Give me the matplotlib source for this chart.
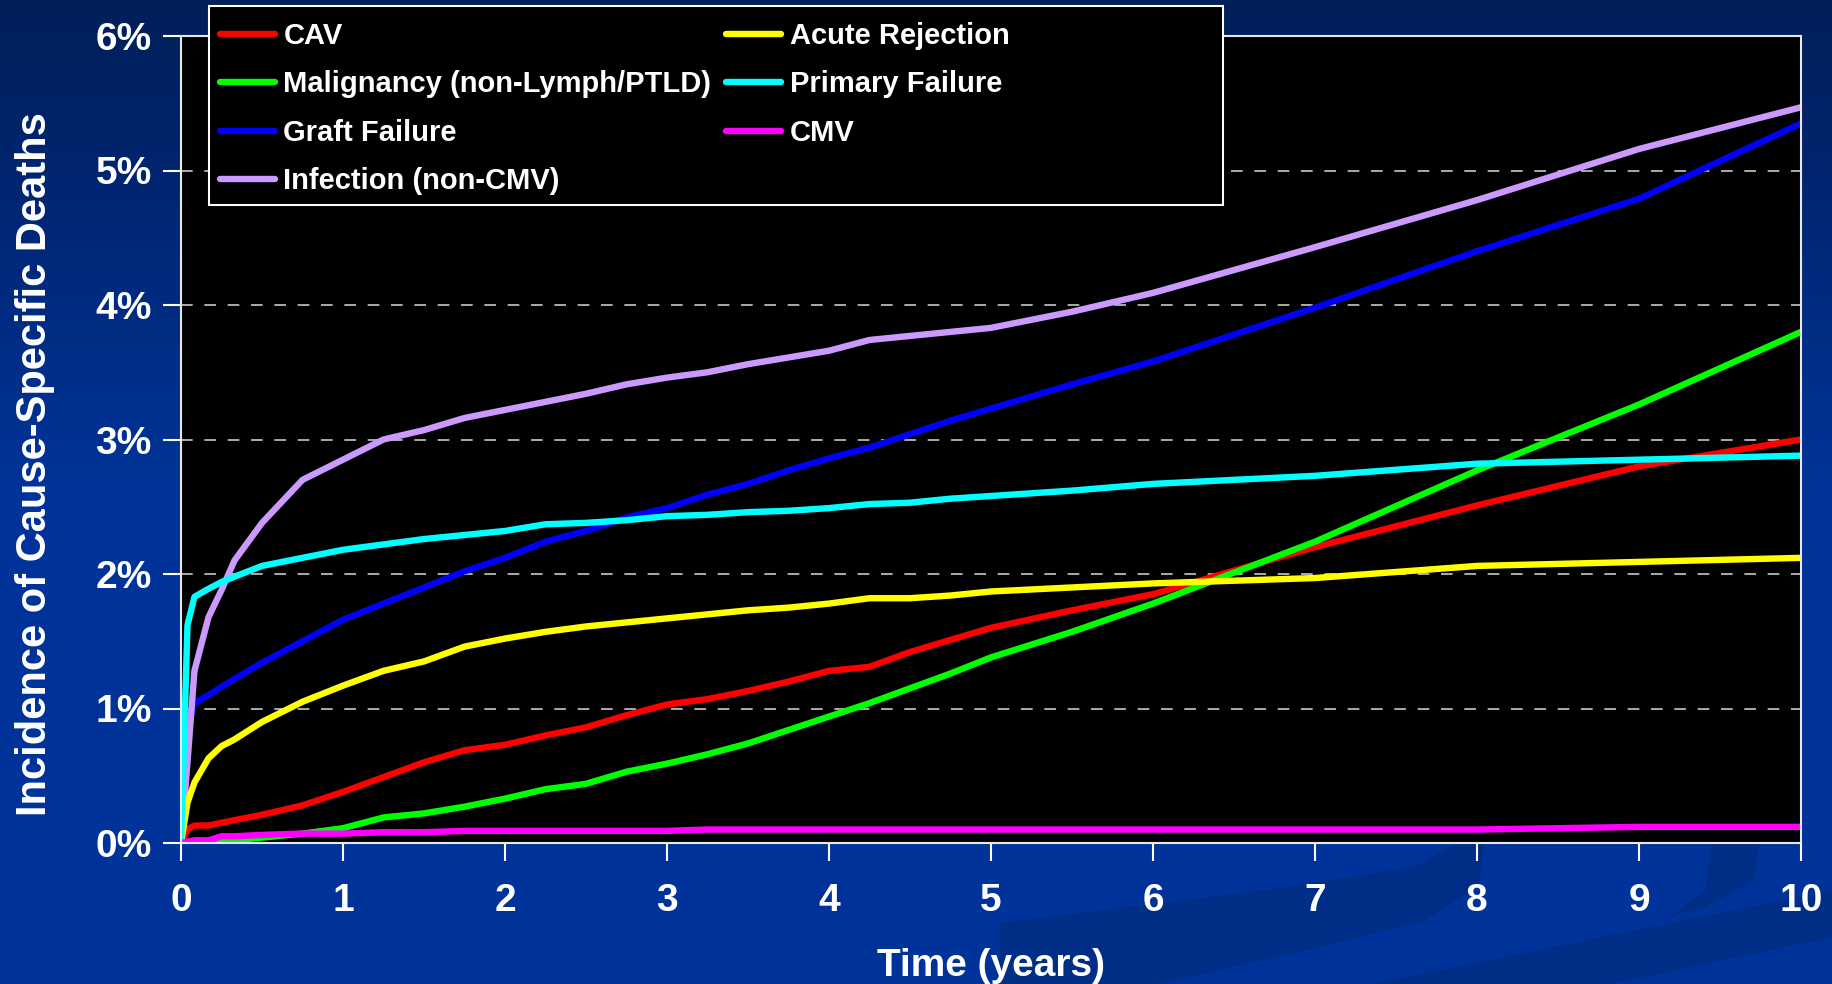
import matplotlib
matplotlib.use("Agg")
import matplotlib.pyplot as plt
import numpy as np
from matplotlib.patches import Rectangle, Polygon
from matplotlib.ticker import FuncFormatter

# 時間軸 (years)
t = [0, 0.04, 0.083, 0.17, 0.25, 0.33, 0.5, 0.75, 1, 1.25, 1.5, 1.75, 2, 2.25, 2.5,
     2.75, 3, 3.25, 3.5, 3.75, 4, 4.25, 4.5, 4.75, 5, 5.5, 6, 7, 8, 9, 10]

cav = [0, 0.10, 0.13, 0.13, 0.15, 0.17, 0.21, 0.28, 0.38, 0.49, 0.60, 0.69, 0.73, 0.80, 0.86,
       0.95, 1.03, 1.07, 1.13, 1.20, 1.28, 1.31, 1.42, 1.51, 1.60, 1.73, 1.85, 2.20, 2.51, 2.80, 3.00]
acute = [0, 0.30, 0.45, 0.63, 0.72, 0.77, 0.90, 1.05, 1.17, 1.28, 1.35, 1.46, 1.52, 1.57, 1.61,
         1.64, 1.67, 1.70, 1.73, 1.75, 1.78, 1.82, 1.82, 1.84, 1.87, 1.90, 1.93, 1.97, 2.06, 2.09, 2.12]
malig = [0, 0, 0, 0.01, 0.01, 0.02, 0.04, 0.07, 0.11, 0.19, 0.22, 0.27, 0.33, 0.40, 0.44,
         0.53, 0.59, 0.66, 0.74, 0.84, 0.94, 1.04, 1.15, 1.26, 1.38, 1.57, 1.78, 2.24, 2.77, 3.26, 3.80]
primary = [0, 1.62, 1.83, 1.89, 1.94, 1.98, 2.06, 2.12, 2.18, 2.22, 2.26, 2.29, 2.32, 2.37, 2.38,
           2.40, 2.43, 2.44, 2.46, 2.47, 2.49, 2.52, 2.53, 2.56, 2.58, 2.62, 2.67, 2.73, 2.82, 2.85, 2.88]
graft = [0, 0.84, 1.04, 1.10, 1.16, 1.22, 1.34, 1.50, 1.66, 1.78, 1.90, 2.02, 2.12, 2.24, 2.32,
         2.42, 2.49, 2.59, 2.67, 2.77, 2.86, 2.94, 3.04, 3.14, 3.23, 3.41, 3.58, 3.98, 4.40, 4.79, 5.35]
cmv = [0, 0.01, 0.02, 0.02, 0.05, 0.05, 0.06, 0.07, 0.07, 0.08, 0.08, 0.09, 0.09, 0.09, 0.09,
       0.09, 0.09, 0.10, 0.10, 0.10, 0.10, 0.10, 0.10, 0.10, 0.10, 0.10, 0.10, 0.10, 0.10, 0.12, 0.12]
infection = [0, 0.60, 1.28, 1.68, 1.88, 2.10, 2.38, 2.70, 2.85, 3.00, 3.07, 3.16, 3.22, 3.28, 3.34,
             3.41, 3.46, 3.50, 3.56, 3.61, 3.66, 3.74, 3.77, 3.80, 3.83, 3.95, 4.09, 4.43, 4.78, 5.16, 5.47]

# 凡例の並び順 (列ごと)
series = [
    ("CAV", cav, "#ff0000"),
    ("Malignancy (non-Lymph/PTLD)", malig, "#00ff00"),
    ("Graft Failure", graft, "#0000ff"),
    ("Infection (non-CMV)", infection, "#cc99ff"),
    ("Acute Rejection", acute, "#ffff00"),
    ("Primary Failure", primary, "#00ffff"),
    ("CMV", cmv, "#ff00ff"),
]

plt.rcParams['font.family'] = ['Liberation Sans', 'DejaVu Sans']
plt.rcParams['font.weight'] = 'bold'

W, H = 1833, 984
fig = plt.figure(figsize=(W / 100, H / 100), dpi=100)

# 背景のグラデーション
bg = fig.add_axes([0, 0, 1, 1], zorder=-10)
grad = np.linspace(0, 1, 256)
top = np.array([0.0, 0.12, 0.35])
bot = np.array([0.0, 0.2, 0.6])
w = np.clip(grad / 0.5, 0, 1)[:, None]
img = top * (1 - w) + bot * w
bg.imshow(img[:, None, :], aspect="auto", extent=[0, W, H, 0])

# 右下の飾り (ピクセル座標で)
sw_col = "#002a78"
swooshes = [
    [(1000, 923), (1266, 890), (1414, 867), (1457, 843), (1486, 843), (1478, 887),
     (1425, 920), (1319, 947), (1159, 984), (1000, 984)],
    [(1669, 917), (1706, 890), (1711, 843), (1759, 843), (1754, 880), (1706, 907)],
    [(1372, 984), (1833, 890), (1833, 937), (1611, 984)],
]
for pts in swooshes:
    bg.add_patch(Polygon(pts, closed=True, color=sw_col, alpha=0.55, lw=0))
bg.set_xlim(0, W)
bg.set_ylim(H, 0)
bg.axis("off")

ax = fig.add_axes([181 / W, 1 - 843 / H, 1620 / W, 807 / H])
ax.set_facecolor("black")

handles = []
for name, vals, col in series:
    h, = ax.plot(t, vals, color=col, lw=4.6, label=name, solid_capstyle="round", solid_joinstyle="round")
    handles.append(h)

ax.set_xlim(0, 10)
ax.set_ylim(0, 6)
ax.set_xticks(range(0, 11))
ax.set_yticks(range(0, 7))
ax.yaxis.set_major_formatter(FuncFormatter(lambda v, p: "%d%%" % v))

for y in range(1, 6):
    ax.axhline(y, color="#c8c8c8", lw=1.2, ls=(0, (7, 7)), zorder=1)

for s in ax.spines.values():
    s.set_color("#e8e8e8")
    s.set_linewidth(1.5)

ax.tick_params(axis="both", colors="white", labelcolor="white", labelsize=28, width=1.5, length=13)
ax.tick_params(axis="y", pad=8)
ax.tick_params(axis="x", pad=16)
for lb in ax.get_xticklabels() + ax.get_yticklabels():
    lb.set_fontweight("bold")

ax.set_xlabel("Time (years)", color="white", fontsize=28, fontweight="bold")
ax.xaxis.set_label_coords(0.5, -0.13)
ax.set_ylabel("Incidence of Cause-Specific Deaths", color="white", fontsize=30, fontweight="bold")
ax.yaxis.set_label_coords(-0.078, 0.47)

# 凡例の黒い箱
fig.add_artist(Rectangle((209 / W, 1 - 205 / H), 1014 / W, 199 / H, transform=fig.transFigure,
                         facecolor="black", edgecolor="white", lw=1.5, zorder=5))
leg = fig.legend(handles=handles, ncol=2, loc="upper left", bbox_to_anchor=(0.108, 1.0),
                 frameon=False, handlelength=1.9, handletextpad=0.28, borderpad=0.25,
                 columnspacing=0.5, labelspacing=0.7, prop={"weight": "bold", "size": 21})
leg.set_zorder(6)
for txt in leg.get_texts():
    txt.set_color("white")

plt.savefig("out.png", dpi=100)
plt.close()
